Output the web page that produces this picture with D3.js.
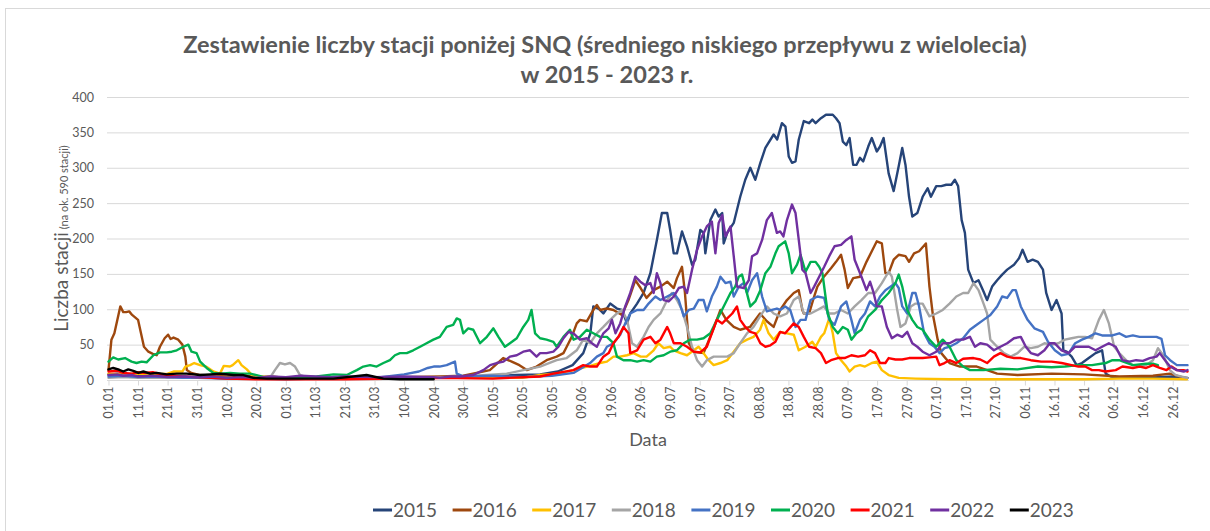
<!DOCTYPE html>
<html><head><meta charset="utf-8">
<script src="https://cdnjs.cloudflare.com/ajax/libs/d3/7.8.5/d3.min.js"></script>
<style>html,body{margin:0;padding:0;background:#fff;}svg{display:block;font-family:Lato,"Open Sans",sans-serif;}</style>
</head><body><svg id="c" width="1210" height="531"></svg>
<script>
const titleLines = ["Zestawienie liczby stacji poniżej SNQ (średniego niskiego przepływu z wielolecia)", "w 2015 - 2023 r."];
const yTitle = "Liczba stacji";
const ySub = " (na ok. 590 stacji)";
const xTitle = "Data";
const yTicks = [0,50,100,150,200,250,300,350,400];
const tickLabels = ["01.01","11.01","21.01","31.01","10.02","20.02","01.03","11.03","21.03","31.03","10.04","20.04","30.04","10.05","20.05","30.05","09.06","19.06","29.06","09.07","19.07","29.07","08.08","18.08","28.08","07.09","17.09","27.09","07.10","17.10","27.10","06.11","16.11","26.11","06.12","16.12","26.12"];
const tickDays = [0,10,20,30,40,50,60,70,80,90,100,110,120,130,140,150,160,170,180,190,200,210,220,230,240,250,260,270,280,290,300,310,320,330,340,350,360];
const seriesNames = ["2015","2016","2017","2018","2019","2020","2021","2022","2023"];
const seriesColors = ["#264478","#9E480E","#FFC000","#A5A5A5","#4472C4","#00B050","#FF0000","#7030A0","#000000"];

// [day of year (0-based), number of stations]
const s2015 = [[0,8],[3,9],[6,7],[9,8],[12,6],[15,5],[18,6],[22,4],[26,5],[30,3],[35,3],[40,2],[50,2],[60,1],[70,2],[80,2],[90,2],[100,3],[110,4],[120,3],[130,5],[138,7],[146,8],[152,12],[157,21],[160.6,38],[163,66],[164,104],[166,100],[167.4,94],[169.7,108],[172,101],[173.7,99],[175.4,80],[176.5,94],[178.8,108],[181,123],[183.3,151],[185.5,198],[187.2,236],[189,236],[190,212],[191.2,179],[192.3,179],[194,210],[195.7,189],[197.4,163],[198.5,170],[200.2,212],[201.3,208],[201.9,179],[203.6,226],[205.3,241],[206.4,231],[207.6,236],[208.1,193],[209.3,208],[211.5,222],[213.7,259],[215.4,283],[217.1,300],[218.8,283],[220.5,307],[222.2,328],[225,347],[226.2,340],[227.8,363],[229,358],[230.1,316],[231.2,307],[232.4,309],[233.5,340],[235.2,366],[237,363],[238.1,368],[239.2,363],[241,370],[242.7,375],[245,375],[246.1,370],[247.3,363],[248.4,337],[249.6,332],[250.7,342],[251.9,304],[253,304],[254.2,314],[255.3,309],[257,330],[258.2,342],[259.9,323],[261,330],[262.2,342],[263.9,292],[265.6,267],[267.3,302],[268.5,328],[269.6,304],[270.8,259],[271.9,231],[273.6,236],[275.4,259],[277.1,271],[278.2,259],[280,274],[281.7,274],[283.4,276],[285.1,276],[286.3,283],[287.4,274],[288.6,226],[289.7,208],[290.8,156],[292.6,137],[294.3,141],[296,125],[297.2,113],[298.9,132],[300.6,141],[302.3,149],[304,156],[306.3,163],[308,172],[309.2,184],[310.9,167],[312.6,170],[314.4,167],[316.1,156],[317.2,123],[319,99],[320.7,113],[322.4,94],[323,42],[324.1,40],[325.8,33],[327.5,21],[329.3,24],[331.6,31],[333.9,38],[336.1,42],[337.3,9],[339,5],[342,3],[350,3],[355,4],[360,5],[365,3]];
const s2016 = [[0,14],[1,57],[2,66],[4,104],[5,96],[6,96],[7,97],[8,92],[10,85],[11,66],[12,47],[13.5,40],[15,37],[16.3,35],[17.4,47],[19,59],[20.2,64],[21,58],[22,60],[23.6,57],[25,50],[26,33],[26.5,14],[28,10],[31,7],[35,6],[40,5],[45,7],[50,4],[55,5],[60,3],[70,3],[80,3],[90,3],[100,4],[112,5],[120,6],[129,14],[133.5,31],[136.4,26],[139,21],[141.5,14],[144.8,19],[148.2,28],[151.6,33],[153.9,38],[155,47],[156.7,61],[158.4,80],[159.5,85],[161.8,83],[164,99],[165.2,106],[166.3,99],[168.6,101],[170.8,99],[173.7,92],[175.9,113],[178.2,141],[180,130],[182,116],[184.4,127],[186.7,132],[189,139],[191.2,130],[192.3,144],[194,160],[195,123],[196.3,52],[198,40],[201.3,38],[204.7,73],[207,99],[209,85],[211.5,75],[213.7,71],[217,75],[220.4,94],[222.7,83],[225,75],[227.2,99],[229.5,113],[231.8,123],[233.5,127],[234.7,99],[235.2,94],[237,94],[238.7,118],[239.8,132],[242,146],[244.4,158],[246.1,167],[247.8,177],[249,156],[250.1,130],[251.9,144],[254.2,146],[256.4,167],[258.2,182],[259.9,196],[261.6,193],[262.8,151],[263.9,151],[265.6,170],[267.3,177],[269.6,175],[270.8,167],[272.5,179],[274.2,182],[276.5,193],[277.7,132],[278.8,94],[280.5,57],[281.7,38],[284.5,24],[288,19],[293.7,19],[297.2,14],[300.6,9],[307.5,7],[319,9],[330,8],[341.9,5],[353.3,6],[359,9],[364.8,2]];
const s2017 = [[0,9],[5,8],[10,9],[15,8],[20,9],[22,12],[25,12],[26,19],[27.6,21],[29,24],[31,21],[33,19],[35.5,12],[37.7,9],[39,20],[41.1,19],[42,21],[43.9,28],[45,21],[46.8,15],[48.5,7],[51,5],[57,3],[70,2],[90,2],[112,3],[140,3],[146,7],[151.6,9],[157.3,14],[162.9,20],[166.3,24],[168.6,26],[170.8,33],[173,33],[175.4,35],[177.6,38],[180,33],[182,33],[184.4,42],[186,52],[187.8,45],[190,47],[191.2,42],[193.5,38],[195.7,35],[198,42],[199.6,47],[201.3,38],[203,28],[204.7,21],[207,24],[209.3,28],[211.5,40],[213.7,52],[216,57],[218.2,61],[220.4,71],[221.6,85],[223.3,66],[225,57],[227.2,68],[229.5,66],[231.8,64],[233.5,42],[235.8,47],[238.1,54],[239.2,47],[241,61],[242.1,66],[243.8,87],[245,66],[246.1,38],[247.8,28],[249.6,19],[250.7,12],[252.4,19],[254.2,21],[255.9,19],[258.2,24],[259.9,26],[261.6,14],[263.9,7],[267.3,3],[273,2],[284.5,1],[307.5,1],[330.4,1],[341.9,2],[353.3,2],[364.8,1]];
const s2018 = [[0,3],[5,4],[10,3],[20,3],[30,3],[40,3],[50,2],[54.6,3],[56.3,14],[58,24],[59.7,22],[61.4,24],[63.1,19],[64.8,7],[68,3],[80,3],[100,3],[112,4],[120,5],[134.7,9],[146,19],[151.6,28],[155,31],[158.4,42],[160.6,57],[162.9,52],[165.2,66],[167.4,75],[169.7,85],[172,94],[173.7,99],[175.4,85],[177.1,52],[178.8,47],[181,61],[182.7,75],[184.4,85],[186.7,94],[189,113],[190.6,123],[192.3,113],[194,99],[195.7,75],[197.4,47],[199.1,28],[200.8,19],[202.4,28],[204.7,33],[207,33],[209.3,33],[211.5,38],[213.7,52],[216,66],[218.2,75],[220.4,90],[222.7,104],[225,94],[227.2,90],[229.5,94],[231.8,113],[233.5,118],[235.2,94],[237.5,94],[239.8,99],[242,104],[243.8,94],[245.6,94],[247.8,99],[250.1,94],[252.4,104],[254.7,113],[257,123],[259.3,123],[261.6,137],[263.9,153],[265,146],[266.8,99],[267.9,75],[269.6,80],[271.4,104],[273,108],[275.4,108],[277.7,90],[280,94],[282.2,99],[284.5,108],[286.8,118],[289.1,123],[290.8,123],[292.6,137],[294.3,127],[296,108],[297.2,94],[298.3,57],[300.6,47],[302.9,38],[305.2,33],[307.5,38],[309.8,47],[312,45],[314.4,47],[316.6,52],[319,50],[321.3,52],[323.5,57],[325.8,59],[328.1,61],[330.4,61],[332.7,59],[335,85],[336.7,99],[338.4,80],[340.2,47],[341.9,38],[344.2,28],[346.5,21],[348.8,20],[351,21],[353.3,28],[355,45],[356.8,35],[359,14],[361,7],[364.8,3]];
const s2019 = [[0,5],[5,6],[10,4],[15,5],[20,4],[25,3],[30,3],[40,2],[50,2],[60,3],[70,3],[80,4],[90,3],[100,8],[105,12],[108,17],[110,19],[112,19],[114.4,21],[117.2,26],[117.8,9],[120,5],[130,6],[140,4],[150,6],[157.3,10],[162.9,24],[165.2,33],[167.4,38],[168.6,47],[170.8,52],[173.1,64],[174.8,80],[176.5,94],[178.8,99],[181,99],[182.7,108],[185,118],[186.7,113],[189,118],[191.2,123],[192.9,113],[194.6,90],[196.3,99],[198,101],[199.6,113],[201.3,113],[202.4,97],[204.1,118],[205.8,132],[207,146],[208.7,137],[210.4,139],[211.5,118],[213.2,132],[214.9,137],[216,123],[217.7,141],[219.4,151],[221.1,118],[222.7,97],[224.4,99],[226.1,101],[227.2,99],[228.9,104],[230.6,99],[232.4,75],[234.1,85],[235.8,85],[237.5,113],[239.8,118],[242.1,116],[243.8,85],[245.6,78],[247.8,104],[249.6,111],[251.3,85],[252.4,66],[254.2,85],[255.9,94],[257.6,111],[259.3,104],[261,118],[262.8,127],[264.5,132],[266.2,137],[267.3,130],[268.5,104],[270.2,94],[271.9,123],[273,123],[274.2,104],[275.9,66],[277.7,52],[279.4,47],[281.1,38],[282.8,45],[284.5,47],[286.8,52],[289.1,59],[291.4,71],[293.7,78],[296,85],[298.3,92],[300.6,104],[302.3,118],[304,116],[305.8,127],[306.9,127],[308.6,104],[310.9,85],[313.2,73],[316.1,68],[317.8,54],[320.1,42],[322.4,35],[324.7,37],[327,52],[329.3,57],[331.6,61],[333.9,66],[336.1,63],[339.6,63],[341.9,66],[344.2,61],[346.5,63],[348.8,61],[351,61],[354.5,61],[356.2,58],[357.4,35],[359.1,28],[361.4,21],[363.6,21],[365,21]];
const s2020 = [[0,26],[1.6,32],[3.3,29],[5.6,31],[7.8,26],[9.5,24],[11.2,26],[12.9,25],[15.2,35],[17.4,39],[19.7,39],[21.4,40],[23.1,42],[25.3,47],[27,50],[28.1,40],[29.8,38],[31,26],[33.2,17],[35.5,10],[37.7,9],[41.1,10],[44.5,9],[47.9,9],[50.1,7],[53.5,3],[59.1,3],[65,4],[70.4,5],[76.1,8],[80.6,7],[84,14],[86.2,19],[88.5,21],[90.7,19],[93,24],[95.2,28],[96.9,35],[98.6,38],[100.9,38],[103.1,42],[105.4,47],[107.6,52],[109.9,57],[112.1,61],[114.4,75],[116.6,78],[117.8,87],[118.9,85],[120,66],[121.7,73],[123.4,71],[125.7,52],[128,61],[130.2,73],[131.9,61],[134.1,47],[135.8,52],[138.1,59],[140.3,75],[142,85],[143.1,99],[144.3,66],[146,59],[148.2,57],[150.5,54],[151.6,47],[153.9,61],[156.1,71],[157.3,57],[159.5,61],[161.8,71],[164,66],[166.3,61],[168.6,61],[170.8,52],[172,33],[174.2,28],[176.5,28],[178.8,26],[181,28],[183.3,26],[185.5,33],[187.8,35],[190,40],[192.3,42],[194.6,52],[196.8,57],[199.1,57],[201.3,59],[203.6,66],[205.8,85],[208.1,104],[210.4,123],[212,132],[213.2,146],[214.3,149],[215.4,132],[217.1,104],[218.8,111],[220.5,127],[222.2,151],[223.9,160],[225.6,179],[226.7,189],[228.9,196],[230.1,179],[231.2,151],[232.9,163],[234.1,177],[235.8,153],[237.5,167],[239.2,167],[240.4,160],[241.5,151],[243.3,94],[245,75],[246.7,66],[248.4,75],[250.1,71],[251.3,57],[253,66],[254.7,71],[257,90],[259.3,99],[261.6,113],[263.9,123],[266.2,137],[267.3,149],[268.5,132],[270.2,99],[271.9,85],[273.6,75],[275.4,71],[277.7,57],[280,47],[282.2,57],[284.5,47],[286.8,28],[289.1,19],[291.4,14],[296,14],[301.7,16],[307.5,15],[314.4,19],[319,18],[323.5,19],[328.1,21],[332.7,21],[337.3,24],[339.6,28],[341.9,28],[346.5,21],[351,23],[353.3,23],[355,21]];
const s2021 = [[0,12],[3,13],[5,10],[8,9],[10,11],[12,10],[15,11],[18,8],[20,7],[22,6],[25,5],[30,4],[35,3],[40,2],[50,1],[60,1],[80,1],[100,2],[112,3],[130,2],[146,5],[150.5,9],[157.3,14],[160.6,21],[162.9,19],[165.2,19],[167.4,33],[169.2,38],[170.8,52],[172.5,61],[174.2,75],[175.9,66],[176.5,38],[178.8,42],[181,57],[183.3,61],[185,52],[186.7,57],[189,75],[190,66],[191.2,52],[193.5,52],[195.7,47],[198,40],[200.2,39],[202.4,47],[204.1,66],[205.8,85],[207.6,80],[209.3,87],[211,94],[212.6,104],[213.7,85],[215.4,75],[217.1,68],[218.8,66],[220.5,52],[222.2,47],[223.9,49],[225.6,54],[227.2,68],[228.9,66],[231.8,80],[233.5,75],[235.2,61],[237,47],[239.2,45],[241,38],[242.7,24],[244.4,28],[246.7,31],[249,31],[251.3,35],[253.6,33],[255.9,35],[257.6,42],[259.3,38],[261,24],[262.8,24],[263.9,31],[266.2,29],[268.5,29],[270.8,31],[273,31],[275.4,31],[277.7,32],[280,33],[281.1,21],[282.8,24],[284.5,28],[286.8,24],[289.1,30],[292.6,31],[294.9,29],[297.2,24],[299.5,33],[301.7,38],[304,33],[306.3,31],[308.6,31],[312,28],[315.5,26],[319,26],[322.4,24],[325.8,21],[328.1,19],[330.4,19],[332.7,14],[335,14],[337.3,12],[340.7,14],[343,19],[346.5,17],[348.8,19],[351,17],[353.3,21],[355.6,17],[357.9,14],[359.6,19],[361.4,14],[363.7,14],[365,12]];
const s2022 = [[0,7],[3,8],[5,6],[8,7],[10,5],[15,6],[20,4],[25,5],[30,4],[35,5],[40,3],[45,4],[50,3],[55,5],[60,4],[65,6],[70,5],[75,4],[80,5],[90,4],[100,5],[110,4],[112.1,3],[115.5,5],[118.9,5],[123.4,7],[126.8,14],[129.1,21],[131.3,24],[133.6,26],[135.8,33],[138.1,35],[140.3,40],[142.6,42],[144.8,33],[146,38],[148.2,38],[150.5,40],[152.2,47],[153.9,59],[155.6,68],[157.3,66],[159.5,57],[161.8,59],[163.5,52],[165.2,47],[167.4,66],[169.2,73],[170.3,85],[171.5,66],[173.1,80],[174.8,104],[176.5,123],[178.2,146],[179.9,139],[181.6,134],[183.3,137],[184.4,123],[185.5,151],[186.7,137],[187.8,113],[189.5,111],[191.2,118],[192.9,130],[194.6,132],[195.7,123],[197.4,156],[199.1,184],[200.8,203],[202.4,217],[204.1,224],[205.3,179],[206.4,222],[207.6,233],[208.7,203],[210.4,217],[211.5,175],[212.6,132],[214.9,130],[216.6,141],[217.7,175],[219.4,179],[221.1,198],[222.7,226],[224.4,236],[226.1,208],[227.2,210],[228.3,203],[229.5,226],[231.2,248],[232.4,236],[233.5,198],[234.7,156],[235.8,151],[237.5,123],[238.7,132],[240.4,146],[242.1,160],[243.8,175],[245.6,189],[247.8,191],[249.6,198],[251.3,203],[252.4,170],[254.7,146],[256.4,127],[257.6,139],[258.7,125],[259.9,104],[261.6,104],[263.3,75],[265,59],[266.8,64],[268.5,61],[270.2,68],[271.9,52],[273.6,47],[275.4,40],[277.7,35],[280,40],[282.2,52],[284.5,52],[286.8,57],[289.1,57],[291.4,61],[293.1,47],[294.9,52],[297.2,50],[299.5,42],[301.7,47],[304,52],[306.3,59],[308.6,61],[310.3,47],[312,38],[314.4,35],[316.6,42],[318.4,52],[320,52],[322.4,42],[324.7,38],[327,47],[329.3,47],[331.6,47],[333.9,42],[336.1,47],[338.4,52],[340.7,47],[343,28],[345.3,26],[347.6,28],[349.9,27],[352.2,31],[354.5,33],[355.6,38],[357.4,28],[359.1,19],[361.4,14],[363.7,12],[365,14]];
const s2023 = [[0,15],[1.6,17],[3.3,15],[5,12],[6.7,15],[8.4,13],[10.1,10],[11.8,12],[14.1,9],[16.3,10],[19.7,8],[23.1,9],[26.5,9],[31,7],[34.4,8],[37.7,9],[42.3,7],[45.6,7],[49,3],[53.5,2],[64.8,2],[76.1,2],[87.3,7],[89.6,5],[93,2],[98.6,1],[110,1]];
const allSeries = [s2015,s2016,s2017,s2018,s2019,s2020,s2021,s2022,s2023];

const svg = d3.select("#c");
const W = 1210, H = 531;
const plot = {l:107, r:1189, t:97, b:380};
svg.append("rect").attr("width",W).attr("height",H).attr("fill","#fff");
svg.append("rect").attr("x",5.5).attr("y",8.5).attr("width",1400).attr("height",800)
  .attr("fill","none").attr("stroke","#d9d9d9").attr("stroke-width",1);

const x = d3.scaleLinear().domain([-0.5,365.5]).range([plot.l, plot.r]);
const y = d3.scaleLinear().domain([0,400]).range([plot.b, plot.t]);

// title
const tcol = "#595959";
const t1 = svg.append("text").attr("x",605).attr("y",53).attr("text-anchor","middle")
  .attr("fill",tcol).attr("font-weight","bold").attr("font-size",21).text(titleLines[0]);
const w1 = t1.node().getComputedTextLength();
const fs = 21*844/w1;
t1.attr("font-size",fs);
svg.append("text").attr("x",607).attr("y",83).attr("text-anchor","middle")
  .attr("fill",tcol).attr("font-weight","bold").attr("font-size",fs).text(titleLines[1]);

// grid
svg.append("g").selectAll("line").data(yTicks.filter(d=>d>0)).join("line")
  .attr("x1",plot.l).attr("x2",plot.r).attr("y1",d=>y(d)+0.5).attr("y2",d=>y(d)+0.5)
  .attr("stroke","#d9d9d9").attr("stroke-width",1);

// y axis
const ya = svg.append("g").attr("transform",`translate(${plot.l},0)`)
  .call(d3.axisLeft(y).tickValues(yTicks).tickSize(0).tickPadding(13));
ya.select(".domain").remove();
ya.selectAll("text").attr("fill",tcol).attr("font-size",12.5).attr("font-family","Lato, sans-serif");

// x axis
const xa = svg.append("g").attr("transform",`translate(0,${plot.b+0.5})`)
  .call(d3.axisBottom(x).tickValues(tickDays).tickFormat((d,i)=>tickLabels[i]).tickSize(5).tickSizeOuter(0));
xa.select(".domain").attr("stroke","#d9d9d9").attr("d",`M${plot.l},0H${plot.r}`);
xa.selectAll(".tick line").attr("stroke","#d9d9d9");
xa.selectAll("text").attr("fill",tcol).attr("font-size",12.5).attr("font-family","Lato, sans-serif")
  .attr("transform","rotate(-90)").attr("text-anchor","end").attr("x",-6).attr("y",0).attr("dy","0.35em");

// lines
const line = d3.line().x(d=>x(d[0])).y(d=>y(d[1])).curve(d3.curveLinear);
svg.append("g").selectAll("path").data(allSeries).join("path")
  .attr("d",line).attr("fill","none")
  .attr("stroke",(d,i)=>seriesColors[i]).attr("stroke-width",2.4)
  .attr("stroke-linejoin","round").attr("stroke-linecap","round");

// axis titles
const yt = svg.append("text").attr("transform",`translate(68,238.5) rotate(-90)`)
  .attr("text-anchor","middle").attr("fill",tcol);
yt.append("tspan").attr("font-size",19).text(yTitle);
yt.append("tspan").attr("font-size",11).text(ySub);
svg.append("text").attr("x",648).attr("y",446).attr("text-anchor","middle")
  .attr("fill",tcol).attr("font-size",18).text(xTitle);

// legend
const lg = svg.append("g").selectAll("g").data(seriesNames).join("g")
  .attr("transform",(d,i)=>`translate(${373+i*79.6},510)`);
lg.append("line").attr("x1",0).attr("x2",19).attr("y1",0).attr("y2",0)
  .attr("stroke",(d,i)=>seriesColors[i]).attr("stroke-width",3);
lg.append("text").attr("x",20).attr("y",0).attr("dy","0.36em").attr("fill",tcol)
  .attr("font-size",19).text(d=>d);
</script></body></html>
